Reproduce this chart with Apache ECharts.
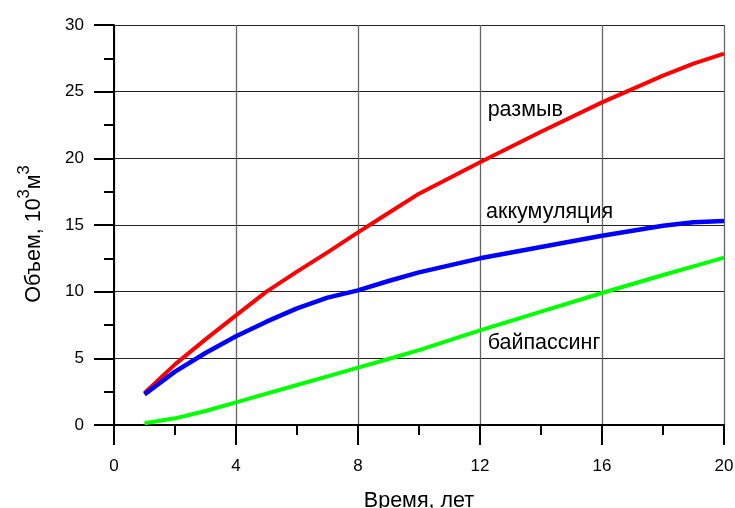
<!DOCTYPE html>
<html>
<head>
<meta charset="utf-8">
<script src="https://cdn.jsdelivr.net/npm/echarts@6/dist/echarts.min.js"></script>
<style>
html,body{margin:0;padding:0;background:#fff;}
#c{width:735px;height:508px;}
</style>
</head>
<body>
<div id="c"></div>
<script>
// Years (x values)
const years = [1, 2, 3, 4, 5, 6, 7, 8, 9, 10, 12, 14, 16, 18, 19, 20];
// размыв (erosion)
const erosion = [2.4, 4.55, 6.42, 8.22, 10.0, 11.5, 12.95, 14.45, 15.9, 17.35, 19.7, 22.0, 24.2, 26.2, 27.1, 27.85];
// аккумуляция (accumulation)
const accumulation = [2.3, 4.0, 5.4, 6.65, 7.75, 8.75, 9.55, 10.1, 10.8, 11.45, 12.5, 13.35, 14.2, 14.95, 15.2, 15.3];
// байпассинг (bypassing)
const bypassing = [0.13, 0.5, 1.05, 1.7, 2.35, 3.0, 3.65, 4.3, 4.95, 5.62, 7.1, 8.5, 9.9, 11.25, 11.9, 12.55];

const seriesNames = ['размыв', 'аккумуляция', 'байпассинг'];
const xTicks = [0, 4, 8, 12, 16, 20];
const yTicks = [0, 5, 10, 15, 20, 25, 30];

const FONT = '"Liberation Sans", Arial, sans-serif';

function pairs(vals) { return years.map((x, i) => [x, vals[i]]); }

function mk(name, vals, color, width, labelCoord) {
  return {
    name: name,
    type: 'line',
    data: pairs(vals),
    smooth: false,
    showSymbol: false,
    symbol: 'none',
    lineStyle: { color: color, width: width, join: 'round', cap: 'butt' },
    itemStyle: { color: color },
    z: 5,
    markPoint: {
      symbol: 'circle',
      symbolSize: 0,
      silent: true,
      data: [{ name: name, coord: labelCoord }],
      label: {
        show: true,
        position: 'right',
        distance: 0,
        formatter: '{b}',
        color: '#000',
        fontFamily: FONT,
        fontSize: 21.5
      }
    }
  };
}

const chart = echarts.init(document.getElementById('c'), null, { renderer: 'canvas' });
chart.setOption({
  animation: false,
  backgroundColor: '#fff',
  grid: {
    left: 114, right: 11, top: 25, bottom: 83,
    containLabel: false,
    outerBoundsMode: 'none'
  },
  xAxis: {
    type: 'value',
    min: xTicks[0], max: xTicks[xTicks.length - 1], interval: 4,
    name: 'Время, лет',
    nameLocation: 'middle',
    nameGap: 65,
    nameTextStyle: { color: '#000', fontFamily: FONT, fontSize: 21.5 },
    axisLine: { show: true, onZero: false, lineStyle: { color: '#000', width: 2 } },
    axisTick: { show: true, inside: false, length: 20, lineStyle: { color: '#000', width: 2 } },
    minorTick: { show: true, splitNumber: 2, length: 10, lineStyle: { color: '#000', width: 2 } },
    axisLabel: { color: '#000', fontFamily: FONT, fontSize: 17, margin: 33 },
    splitLine: { show: true, lineStyle: { color: '#666', width: 1.3 } },
    minorSplitLine: { show: false }
  },
  yAxis: {
    type: 'value',
    min: yTicks[0], max: yTicks[yTicks.length - 1], interval: 5,
    name: '{a|Объем, 10}{s|3}{a|м}{s|3}',
    nameLocation: 'middle',
    nameGap: 69,
    nameTextStyle: {
      color: '#000', fontFamily: FONT, fontSize: 21.5,
      padding: [0, 18, 0, 0],
      rich: {
        a: { fontFamily: FONT, fontSize: 21.5, color: '#000', verticalAlign: 'bottom' },
        s: { fontFamily: FONT, fontSize: 16.5, color: '#000', verticalAlign: 'top', padding: [0, 0, 12, 0] }
      }
    },
    axisLine: { show: true, onZero: false, lineStyle: { color: '#000', width: 2 } },
    axisTick: { show: true, inside: false, length: 20, lineStyle: { color: '#000', width: 2 } },
    minorTick: { show: true, splitNumber: 2, length: 10, lineStyle: { color: '#000', width: 2 } },
    axisLabel: { color: '#000', fontFamily: FONT, fontSize: 17, margin: 30 },
    splitLine: { show: true, lineStyle: { color: '#222', width: 1 } },
    minorSplitLine: { show: false }
  },
  series: [
    mk(seriesNames[0], erosion, '#ff0000', 4, [12.25, 23.6]),
    mk(seriesNames[1], accumulation, '#0000ff', 4.5, [12.2, 15.95]),
    mk(seriesNames[2], bypassing, '#00ff00', 4, [12.25, 6.15])
  ]
});
</script>
</body>
</html>
